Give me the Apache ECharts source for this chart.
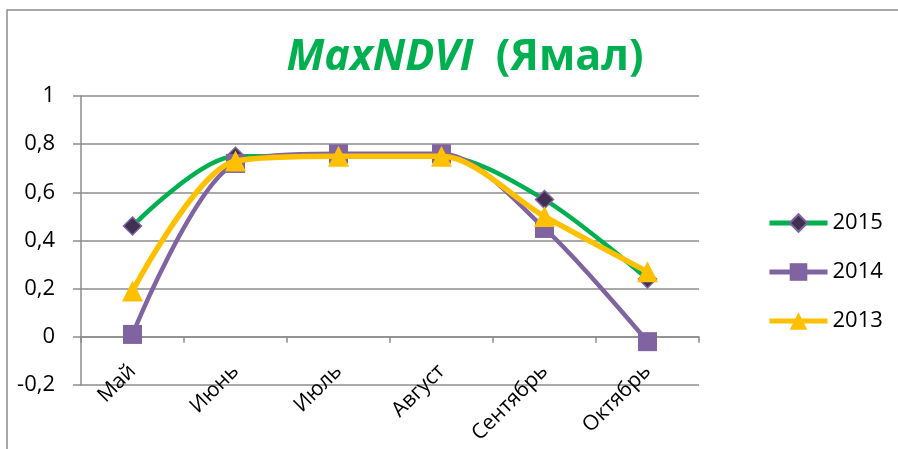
<!DOCTYPE html>
<html>
<head>
<meta charset="utf-8">
<script src="https://cdn.jsdelivr.net/npm/echarts@6/dist/echarts.min.js"></script>
<style>
  html, body { margin: 0; padding: 0; background: #fff; }
  #chart { width: 898px; height: 449px; }
</style>
</head>
<body>
<div id="chart"></div>
<script>
// Monthly maximum NDVI, Yamal
const months = ['Май', 'Июнь', 'Июль', 'Август', 'Сентябрь', 'Октябрь'];
const ndvi2015 = [0.46, 0.75, 0.75, 0.75, 0.57, 0.24];
const ndvi2014 = [0.01, 0.72, 0.76, 0.76, 0.45, -0.02];
const ndvi2013 = [0.19, 0.73, 0.75, 0.75, 0.50, 0.27];
const yTicks = { min: -0.2, max: 1, step: 0.2 };

const FONT = '"Open Sans", "Noto Sans", sans-serif';
const GRID_GREY = '#8c8c8c';

const chart = echarts.init(document.getElementById('chart'), null, { renderer: 'canvas' });

chart.setOption({
  backgroundColor: '#ffffff',
  animation: false,
  title: {
    text: '{a|MaxNDVI}{b|  (Ямал)}',
    left: 460,
    top: 31,
    textAlign: 'center',
    textStyle: {
      rich: {
        a: { fontFamily: FONT, fontSize: 43, fontWeight: 'bold', fontStyle: 'italic', color: '#00b050' },
        b: { fontFamily: FONT, fontSize: 43, fontWeight: 'bold', color: '#00b050' }
      }
    }
  },
  graphic: [{
    type: 'rect',
    shape: { x: 7, y: 10, width: 1000, height: 1000 },
    style: { fill: 'none', stroke: GRID_GREY, lineWidth: 1.5 },
    silent: true,
    z: -1
  }],
  legend: {
    orient: 'vertical',
    left: 762,
    top: 207,
    itemWidth: 58,
    itemHeight: 22,
    itemGap: 27,
    lineStyle: { width: 5 },
    textStyle: { fontFamily: FONT, fontSize: 22, color: '#000' },
    data: ['2015', '2014', '2013']
  },
  grid: { left: 81, right: 199, top: 96, bottom: 64, outerBoundsMode: 'none' },
  xAxis: {
    type: 'category',
    data: months,
    boundaryGap: true,
    axisLine: { onZero: true, lineStyle: { color: GRID_GREY, width: 1.5 } },
    axisTick: { show: true, inside: false, length: 6, lineStyle: { color: GRID_GREY, width: 1.5 } },
    axisLabel: {
      rotate: 45,
      margin: -17,
      fontFamily: FONT,
      fontSize: 21,
      color: '#000'
    },
    splitLine: { show: false }
  },
  yAxis: {
    type: 'value',
    min: yTicks.min,
    max: yTicks.max,
    interval: yTicks.step,
    axisLine: { show: true, lineStyle: { color: GRID_GREY, width: 1.5 } },
    axisTick: { show: true, inside: false, length: 8, lineStyle: { color: GRID_GREY, width: 1.5 } },
    axisLabel: {
      margin: 26,
      fontFamily: FONT,
      fontSize: 22,
      color: '#000',
      formatter: v => (Math.round(v * 10) / 10).toString().replace('.', ',')
    },
    splitLine: { show: true, lineStyle: { color: GRID_GREY, width: 1.5 } }
  },
  series: [
    {
      name: '2015',
      type: 'line',
      data: ndvi2015,
      smooth: 0.3,
      symbol: 'diamond',
      symbolSize: 18,
      lineStyle: { color: '#00b050', width: 4.5 },
      itemStyle: { color: '#403152', borderColor: '#8064a2', borderWidth: 1.5 },
      z: 2
    },
    {
      name: '2014',
      type: 'line',
      data: ndvi2014,
      smooth: 0.3,
      symbol: 'rect',
      symbolSize: 19,
      lineStyle: { color: '#8064a2', width: 4.5 },
      itemStyle: { color: '#8064a2' },
      z: 3
    },
    {
      name: '2013',
      type: 'line',
      data: ndvi2013,
      smooth: 0.3,
      symbol: 'triangle',
      symbolSize: 21,
      lineStyle: { color: '#ffc000', width: 5.5 },
      itemStyle: { color: '#ffc000' },
      z: 4
    }
  ]
});
</script>
</body>
</html>
